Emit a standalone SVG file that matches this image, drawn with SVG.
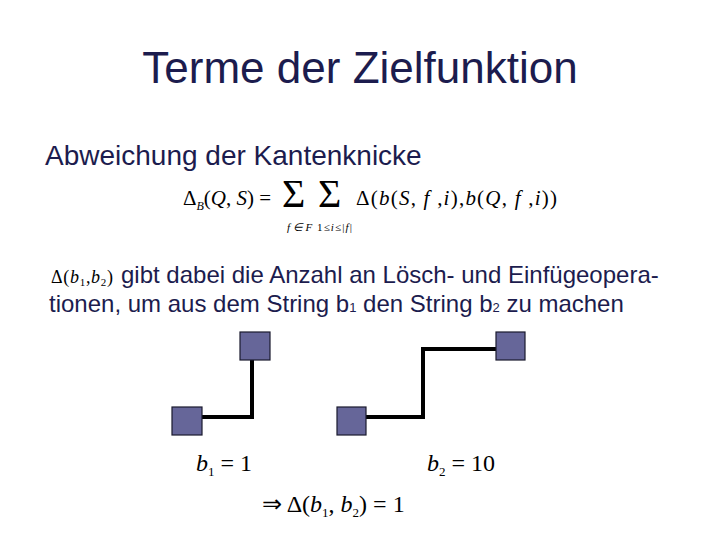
<svg xmlns="http://www.w3.org/2000/svg" width="720" height="540" viewBox="0 0 720 540">
<style>
.t{font-family:"Liberation Sans",Arial,sans-serif;fill:#1c1c4e}
.m{font-family:"Liberation Serif","Times New Roman",serif;fill:#000}
.i{font-style:italic}
.sq{fill:#666699;stroke:#1a1a2e;stroke-width:1.2}
.ln{fill:none;stroke:#000;stroke-width:4}
</style>
<rect width="720" height="540" fill="#fff"/>
<text class="t" x="360" y="83" font-size="44" text-anchor="middle">Terme der Zielfunktion</text>
<text class="t" x="45" y="165" font-size="28">Abweichung der Kantenknicke</text>
<g id="formula">
<text class="m" x="183" y="205" font-size="21">Δ<tspan class="i" font-size="12" dy="5">B</tspan><tspan dy="-5">(</tspan><tspan class="i">Q</tspan>, <tspan class="i">S</tspan>) =</text>
<text class="m" x="282" y="207" font-size="40">Σ</text>
<text class="m" x="318" y="207" font-size="40">Σ</text>
<text class="m i" x="287" y="231" font-size="11">f ∈ F</text>
<text class="m" x="317" y="231" font-size="11" textLength="35" lengthAdjust="spacing">1≤<tspan class="i">i</tspan>≤|<tspan class="i">f</tspan>|</text>
<text class="m" x="356" y="205" font-size="21" textLength="201" lengthAdjust="spacing">Δ(<tspan class="i">b</tspan>(<tspan class="i">S</tspan>, <tspan class="i">f</tspan> ,<tspan class="i">i</tspan>),<tspan class="i">b</tspan>(<tspan class="i">Q</tspan>, <tspan class="i">f</tspan> ,<tspan class="i">i</tspan>))</text>
</g>
<text class="m" x="51" y="283" font-size="18" textLength="62" lengthAdjust="spacing">Δ(<tspan class="i">b</tspan><tspan font-size="11" dy="3">1</tspan><tspan dy="-3">,</tspan><tspan class="i">b</tspan><tspan font-size="11" dy="3">2</tspan><tspan dy="-3">)</tspan></text>
<text class="t" x="121" y="283" font-size="24">gibt dabei die Anzahl an Lösch- und Einfügeopera-</text>
<text class="t" x="49" y="312" font-size="24">tionen, um aus dem String b<tspan font-size="13">1</tspan> den String b<tspan font-size="13">2</tspan> zu machen</text>
<g id="connectors">
<polyline class="ln" points="202,417 252,417 252,360"/>
<polyline class="ln" points="366,417 423,417 423,349 496,349"/>
</g>
<g id="n1"><rect class="sq" x="172" y="407" width="30" height="28"/></g>
<g id="n2"><rect class="sq" x="240" y="332" width="30" height="28"/></g>
<g id="n3"><rect class="sq" x="337" y="407" width="29" height="28"/></g>
<g id="n4"><rect class="sq" x="496" y="332" width="29" height="28"/></g>
<text class="m" x="196" y="471" font-size="24"><tspan class="i">b</tspan><tspan font-size="13" dy="5">1</tspan><tspan dy="-5"> = 1</tspan></text>
<text class="m" x="427" y="471" font-size="24"><tspan class="i">b</tspan><tspan font-size="13" dy="5">2</tspan><tspan dy="-5"> = 10</tspan></text>
<text class="m" x="262" y="512" font-size="24">⇒ Δ(<tspan class="i">b</tspan><tspan font-size="13" dy="5">1</tspan><tspan dy="-5">, </tspan><tspan class="i">b</tspan><tspan font-size="13" dy="5">2</tspan><tspan dy="-5">) = 1</tspan></text>
</svg>
